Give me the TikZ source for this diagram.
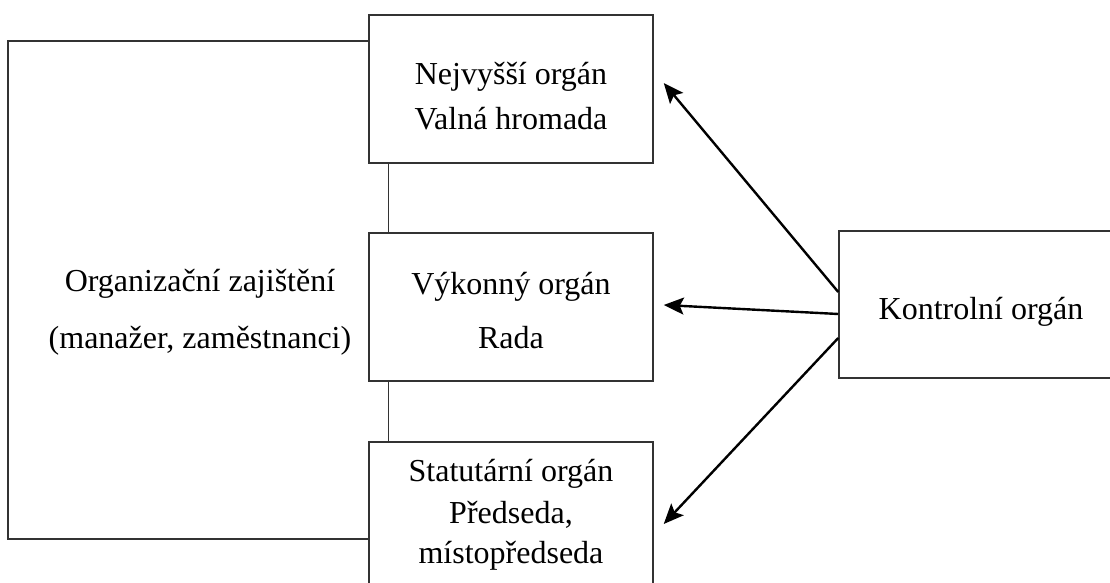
\documentclass[tikz,border=0pt]{standalone}
\usepackage{fontspec}
\setmainfont{Liberation Serif}
\usetikzlibrary{arrows.meta}
\tikzset{organ/.style={draw=black!80, line width=1.5pt, minimum width=284pt,
      minimum height=148pt, inner sep=0pt, align=center,
      font=\fontsize{32}{40}\selectfont}}
\tikzset{spoj/.style={draw=black!80, line width=1.5pt}}
\tikzset{kontrola/.style={-{Stealth[length=20pt,width=17pt,inset=4pt]},
      line width=2.4pt}}

\begin{document}
\begin{tikzpicture}[x=1pt,y=1pt]
		\useasboundingbox (0,0) rectangle (1110,583);
		\node[organ, text height=82pt, text depth=0pt] (nejvyssi) at (511,494) {Nejvyšší orgán\\[5pt]Valná hromada};
		\node[organ, text height=84pt, text depth=0pt] (vykonny) at (511,276) {Výkonný orgán\\[14pt]Rada};
		\node[organ, text height=96pt, text depth=0pt] (statutarni) at (511,67) {Statutární orgán\\[2pt]Předseda,\\místopředseda};
		\node[organ, minimum height=147pt, text height=31pt, text depth=0pt] (kontrolni) at (981,278.5) {Kontrolní orgán};
		\node[align=center, inner sep=0pt, anchor=base, font=\fontsize{32}{40}\selectfont] (zajisteni) at (200,234) {Organizační zajištění\\[17pt](manažer, zaměstnanci)};
		\coordinate (ohore) at (8,542);
		\coordinate (odole) at (8,44);
		\draw[spoj] (nejvyssi.west |- ohore) -- (ohore) -- (odole) -- (statutarni.west |- odole);
		\draw[spoj] ([xshift=20pt]nejvyssi.south west) -- ([xshift=20pt]vykonny.north west);
		\draw[spoj] ([xshift=20pt]vykonny.south west) -- ([xshift=20pt]statutarni.north west);
		\draw[kontrola] ([yshift=12.5pt]kontrolni.west) -- ([xshift=10pt,yshift=6pt]nejvyssi.east);
		\draw[kontrola] ([yshift=-9.5pt]kontrolni.west) -- ([xshift=10pt,yshift=2pt]vykonny.east);
		\draw[kontrola] ([yshift=-33.5pt]kontrolni.west) -- ([xshift=10pt,yshift=-8pt]statutarni.east);
		\end{tikzpicture}
\end{document}
